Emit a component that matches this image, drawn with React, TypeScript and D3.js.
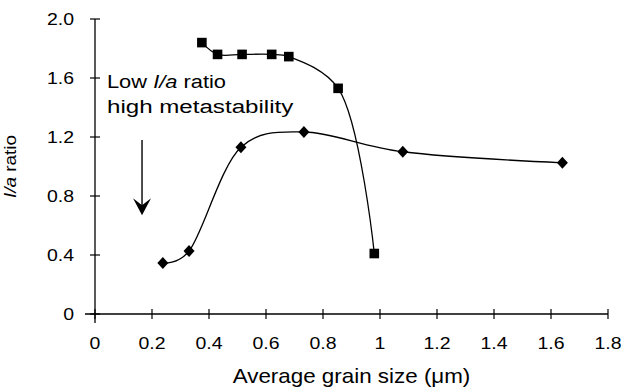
import React from "react";
import * as d3 from "d3";

// ---- data ----
const squareX = [0.375, 0.43, 0.516, 0.62, 0.68, 0.853, 0.98];
const squareY = [1.84, 1.76, 1.76, 1.76, 1.745, 1.53, 0.41];
const diamondX = [0.238, 0.33, 0.512, 0.733, 1.08, 1.64];
const diamondY = [0.345, 0.427, 1.13, 1.234, 1.1, 1.025];
const xTicks = [0, 0.2, 0.4, 0.6, 0.8, 1, 1.2, 1.4, 1.6, 1.8];
const xTickLabels = ["0", "0.2", "0.4", "0.6", "0.8", "1", "1.2", "1.4", "1.6", "1.8"];
const yTicks = [0, 0.4, 0.8, 1.2, 1.6, 2.0];
const yTickLabels = ["0", "0.4", "0.8", "1.2", "1.6", "2.0"];
const xTitle = "Average grain size (\u03bcm)";
const annotLine1 = ["Low ", "I/a", " ratio"];
const annotLine2 = "high metastability";
const arrowX = 0.165;
const arrowFromY = 1.18;
const arrowToY = 0.67;
const annotX = 0.042;
const annotY1 = 1.53;
const annotY2 = 1.36;

const FONT = "'Liberation Sans', Arial, Helvetica, sans-serif";
const INK = "#000";

export default function App() {
  const x = d3.scaleLinear().domain([0, 1.8]).range([95, 608]);
  const y = d3.scaleLinear().domain([0, 2]).range([314, 19]);
  const line = (alpha: number) =>
    d3
      .line<[number, number]>()
      .x((d) => x(d[0]))
      .y((d) => y(d[1]))
      .curve(d3.curveCatmullRom.alpha(alpha));
  const sq: [number, number][] = squareX.map((v, i) => [v, squareY[i]]);
  const dm: [number, number][] = diamondX.map((v, i) => [v, diamondY[i]]);

  const ax = x(arrowX);
  const ay0 = y(arrowFromY);
  const ay1 = y(arrowToY);

  return (
    <svg
      width={621}
      height={390}
      style={{ position: "absolute", left: 0, top: 0, background: "#fff" }}
      fontFamily={FONT}
    >
      <rect width={621} height={390} fill="#fff" />
      {/* axes */}
      <line x1={x(0)} x2={x(0)} y1={y(2)} y2={y(0) + 9} stroke="#000" strokeWidth={1.3} />
      <line x1={x(0) - 10} x2={x(1.8)} y1={y(0)} y2={y(0)} stroke="#000" strokeWidth={1.3} />
      {yTicks.map((t, i) => (
        <g key={"yt" + i}>
          <line x1={x(0) - 5} x2={x(0) + 5} y1={y(t)} y2={y(t)} stroke="#000" strokeWidth={1.2} />
          <text
            transform={`translate(${x(0) - 21},${y(t) + 6}) scale(1.18,1)`}
            textAnchor="end"
            fontSize={16.5}
            fill={INK}
          >
            {yTickLabels[i]}
          </text>
        </g>
      ))}
      {xTicks.map((t, i) => (
        <g key={"xt" + i}>
          <line x1={x(t)} x2={x(t)} y1={y(0) - 5} y2={y(0) + 5} stroke="#000" strokeWidth={1.2} />
          <text
            transform={`translate(${x(t)},${y(0) + 35}) scale(1.18,1)`}
            textAnchor="middle"
            fontSize={16.5}
            fill={INK}
          >
            {xTickLabels[i]}
          </text>
        </g>
      ))}
      {/* axis titles */}
      <text
        transform={`translate(${(x(0) + x(1.8)) / 2},${383}) scale(1.12,1)`}
        textAnchor="middle"
        fontSize={20}
        fill={INK}
      >
        {xTitle}
      </text>
      <text
        transform={`translate(16,${(y(0) + y(2)) / 2}) rotate(-90) scale(1.15,1)`}
        textAnchor="middle"
        fontSize={16.5}
        fill={INK}
      >
        <tspan fontStyle="italic">I/a</tspan> ratio
      </text>
      {/* annotation */}
      <text
        transform={`translate(${x(annotX)},${y(annotY1)}) scale(1.15,1)`}
        fontSize={19}
        fill={INK}
      >
        {annotLine1[0]}
        <tspan fontStyle="italic">{annotLine1[1]}</tspan>
        {annotLine1[2]}
      </text>
      <text
        transform={`translate(${x(annotX)},${y(annotY2)}) scale(1.27,1)`}
        fontSize={19}
        fill={INK}
      >
        {annotLine2}
      </text>
      <line x1={ax} x2={ax} y1={ay0} y2={ay1 - 8} stroke="#000" strokeWidth={1.4} />
      <path
        d={`M${ax},${ay1} L${ax - 9},${ay1 - 17} L${ax},${ay1 - 10} L${ax + 9},${ay1 - 17} Z`}
        fill="#000"
      />
      {/* series lines */}
      <path d={line(0.5)(sq) || ""} fill="none" stroke="#000" strokeWidth={1.3} />
      <path d={line(0.2)(dm) || ""} fill="none" stroke="#000" strokeWidth={1.3} />
      {/* markers */}
      {sq.map((d, i) => (
        <rect key={"s" + i} x={x(d[0]) - 4.8} y={y(d[1]) - 4.8} width={9.6} height={9.6} fill="#000" />
      ))}
      {dm.map((d, i) => (
        <path
          key={"d" + i}
          d={`M${x(d[0])},${y(d[1]) - 6} L${x(d[0]) + 5.5},${y(d[1])} L${x(d[0])},${y(d[1]) + 6} L${x(d[0]) - 5.5},${y(d[1])} Z`}
          fill="#000"
        />
      ))}
    </svg>
  );
}
